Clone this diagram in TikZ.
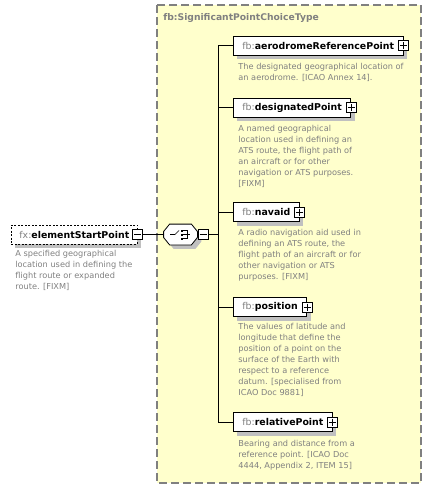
\documentclass[tikz,border=0pt]{standalone}
\usepackage{fontspec}
\setmainfont{DejaVu Sans}
\usepackage{xcolor}
\usetikzlibrary{shadows, calc}

\definecolor{schemaBg}{RGB}{255,255,204}
\definecolor{docGray}{RGB}{128,128,128}
\definecolor{shadowGray}{RGB}{192,192,192}

\newcommand{\elname}[2]{{\color{docGray}#1:}\textbf{#2}\hspace{3pt}}
\newcommand{\namefont}{\fontsize{9.4}{11}\selectfont}

\begin{document}
\begin{tikzpicture}[x=1pt, y=-1pt, line width=0.8pt,
  boxshadow/.style={drop shadow={shadow xshift=4pt, shadow yshift=-4pt, fill=shadowGray, opacity=1}},
  elem/.style={draw=black, fill=white, anchor=west, minimum height=19pt,
               inner xsep=9pt, inner ysep=0pt, font=\namefont, boxshadow},
  doc/.style={anchor=north west, inner sep=0pt, align=left, text=docGray,
              font=\fontsize{8.2}{11}\selectfont},
  plusbox/.style={draw=black, fill=white, minimum size=10pt, inner sep=0pt,
               path picture={
                 \draw[line width=0.6pt] ([xshift=1.5pt]path picture bounding box.west)
                   -- ([xshift=-1.5pt]path picture bounding box.east);
                 \draw[line width=0.6pt] ([yshift=-1.5pt]path picture bounding box.north)
                   -- ([yshift=1.5pt]path picture bounding box.south);}},
  minusbox/.style={draw=black, fill=white, minimum size=10pt, inner sep=0pt,
               path picture={
                 \draw[line width=0.6pt] ([xshift=1.5pt]path picture bounding box.west)
                   -- ([xshift=-1.5pt]path picture bounding box.east);}},
  choicebox/.style={minimum width=33pt, minimum height=20pt, inner sep=0pt}
]
  \useasboundingbox (0,0) rectangle (432,489);

  % complex type
  \draw[docGray, fill=schemaBg, line width=1.2pt, dash pattern=on 8pt off 4pt]
    (157,5) rectangle (421,483);
  \node[anchor=west, inner sep=0pt, text=docGray, font=\fontsize{9.2}{11}\selectfont\bfseries]
    (typeName) at (163,18) {fb:SignificantPointChoiceType};

  % root element
  \node[elem, dashed, dash pattern=on 2pt off 1.5pt, inner xsep=8pt] (start) at (11,234.5)
    {\elname{fx}{elementStartPoint}};
  \node[minusbox] (startMinus) at (start.east) {};
  \node[doc] (startDoc) at (15,250)
    {A specified geographical\\location used in defining the\\flight route or expanded\\route. [FIXM]};

  % choice compositor
  \node[choicebox] (choice) at (180.5,234.5) {};
  \draw[fill=white, boxshadow]
    ([yshift=3pt]choice.west) -- ([xshift=6pt]choice.north west)
    -- ([xshift=-6pt]choice.north east) -- ([yshift=3pt]choice.east)
    -- ([yshift=-3pt]choice.east) -- ([xshift=-6pt]choice.south east)
    -- ([xshift=6pt]choice.south west) -- ([yshift=-3pt]choice.west) -- cycle;
  \node[minusbox] (choiceMinus) at (203,234.5) {};
  \begin{scope}[shift={(choice.center)}, line width=0.7pt]
    \draw (-10.5,0) -- (-5.5,0) -- (-1.5,-4);
    \foreach \dy in {-4,0,4}
      \fill (0.3,\dy-1) rectangle (2.3,\dy+1);
    \draw (2.3,-4) -- (6.5,-4) -- (6.5,4) -- (2.3,4);
    \draw (2.3,0) -- (9.5,0);
  \end{scope}
  \draw (startMinus.east) -- (choice.west);

  % child elements
  \node[elem] (aero) at (233,45.5) {\elname{fb}{aerodromeReferencePoint}};
  \node[doc]  (aeroDoc) at (238,63)
    {The designated geographical location of\\an aerodrome. [ICAO Annex 14].};
  \node[elem] (desig) at (233,107.5) {\elname{fb}{designatedPoint}};
  \node[doc]  (desigDoc) at (238,124.5)
    {A named geographical\\location used in defining an\\ATS route, the flight path of\\an aircraft or for other\\navigation or ATS purposes.\\[0pt][FIXM]};
  \node[elem] (navaid) at (233,212) {\elname{fb}{navaid}};
  \node[doc]  (navaidDoc) at (238,229)
    {A radio navigation aid used in\\defining an ATS route, the\\flight path of an aircraft or for\\other navigation or ATS\\purposes. [FIXM]};
  \node[elem] (pos) at (233,307) {\elname{fb}{position}};
  \node[doc]  (posDoc) at (238,323)
    {The values of latitude and\\longitude that define the\\position of a point on the\\surface of the Earth with\\respect to a reference\\datum. [specialised from\\ICAO Doc 9881]};
  \node[elem] (rel) at (233,422) {\elname{fb}{relativePoint}};
  \node[doc]  (relDoc) at (238,439.5)
    {Bearing and distance from a\\reference point. [ICAO Doc\\4444, Appendix 2, ITEM 15]};

  \foreach \n in {aero, desig, navaid, pos, rel}
    \node[plusbox] (\n Plus) at (\n.east) {};

  % connectors
  \coordinate (spine) at (218,0);
  \draw (aero.west -| spine) -- (rel.west -| spine);
  \foreach \n in {aero, desig, navaid, pos, rel}
    \draw (\n.west -| spine) -- (\n.west);
  \draw (choiceMinus.east) -- (choiceMinus.east -| spine);
\end{tikzpicture}
\end{document}
